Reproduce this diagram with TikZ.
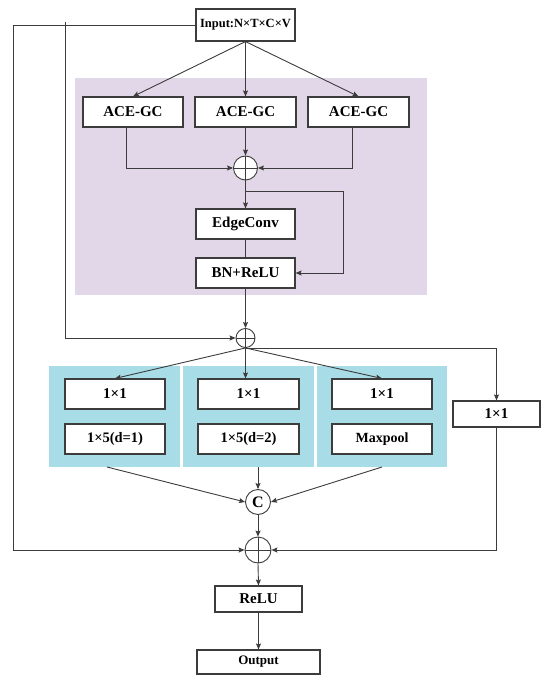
\documentclass[tikz,border=0pt]{standalone}
\usepackage{fontspec}
\setmainfont{Liberation Serif}
\usetikzlibrary{arrows.meta}
\definecolor{lilac}{RGB}{225,215,232}
\definecolor{aqua}{RGB}{168,221,232}
\definecolor{ink}{RGB}{60,60,60}
\begin{document}
\begin{tikzpicture}[x=1pt,y=-1pt,
    box/.style={draw=ink,line width=1.1pt,fill=white,minimum width=100pt,minimum height=30pt,inner sep=1pt,font=\fontsize{15}{17}\selectfont\bfseries},
    sumnode/.style={circle,draw=ink,line width=0.9pt,fill=white,inner sep=0pt,
        path picture={\draw[ink,line width=0.7pt] (path picture bounding box.north) -- (path picture bounding box.south) (path picture bounding box.west) -- (path picture bounding box.east);}},
    arr/.style={-{Stealth[length=6pt,width=5pt,inset=1pt]},line width=0.9pt,ink},
    ln/.style={line width=0.9pt,ink}]
    \useasboundingbox (0,0) rectangle (550,684);
    % backgrounds
    \fill[lilac] (75,78) rectangle (427,295);
    \fill[aqua] (49,366) rectangle (180,467);
    \fill[aqua] (183,366) rectangle (314,467);
    \fill[aqua] (317,366) rectangle (447,467);
    \coordinate (pan1) at (107,467);
    \coordinate (pan2) at (258,467);
    \coordinate (pan3) at (382,467);
    % nodes
    \node[box,minimum width=99pt,minimum height=32pt,font=\fontsize{12.5}{14}\selectfont\bfseries] (in) at (245.5,25) {Input:N×T×C×V};
    \node[box] (ace1) at (133,112) {ACE-GC};
    \node[box,minimum width=101pt] (ace2) at (245.5,112) {ACE-GC};
    \node[box,minimum width=101pt] (ace3) at (358.5,112) {ACE-GC};
    \node[sumnode,minimum size=24pt] (sum) at (245.5,168) {};
    \node[box,minimum width=99pt] (edge) at (245.5,224) {EdgeConv};
    \node[box,minimum width=99pt] (bn) at (245.5,273) {BN+ReLU};
    \node[sumnode,minimum size=19pt] (add1) at (245.5,338) {};
    \node[box] (one1) at (115,394) {1×1};
    \node[box,minimum width=101pt] (one2) at (248.5,394) {1×1};
    \node[box] (one3) at (382,394) {1×1};
    \node[box,font=\fontsize{14.5}{16}\selectfont\bfseries] (five1) at (115,439) {1×5(d=1)};
    \node[box,minimum width=101pt,font=\fontsize{14.5}{16}\selectfont\bfseries] (five2) at (248.5,439) {1×5(d=2)};
    \node[box,font=\fontsize{14}{16}\selectfont\bfseries] (mp) at (382,439) {Maxpool};
    \node[box,minimum width=87pt,minimum height=26pt] (oner) at (496.5,414) {1×1};
    \node[circle,draw=ink,line width=0.9pt,fill=white,minimum size=25pt,inner sep=0pt,font=\fontsize{16}{17}\selectfont\bfseries] (cc) at (258,502) {C};
    \node[sumnode,minimum size=26pt] (add2) at (258,550) {};
    \node[box,minimum width=87pt,minimum height=26pt] (relu) at (258.5,599) {ReLU};
    \node[box,minimum width=123pt,minimum height=24pt,font=\fontsize{13}{14}\selectfont\bfseries] (out) at (258.5,662) {Output};
    % graph convolution part
    \draw[arr] (in.south) -- (ace1.north);
    \draw[arr] (in.south) -- (ace2.north);
    \draw[arr] (in.south) -- (ace3.north);
    \draw[arr] ([xshift=-7pt]ace1.south) |- (sum.west);
    \draw[arr] (ace2.south) -- (sum.north);
    \draw[arr] ([xshift=-6pt]ace3.south) |- (sum.east);
    \draw[arr] (sum.south) -- (edge.north);
    \draw[arr] (sum.south) ++(0,11) -- ++(98,0) |- (bn.east);
    \draw[ln] (edge.south) -- (bn.north);
    \draw[arr] (bn.south) -- (add1.north);
    % residual lines
    \coordinate (j1) at (65,22);
    \draw[arr] (in.west) -- ++(-182,0) |- (add2.west);
    \draw[arr] (j1) |- (add1.west);
    % multi-scale part
    \draw[arr] (add1.south) -- (one1.north);
    \draw[arr] (add1.south) -- (one2.north -| add1);
    \draw[arr] (add1.south) -- (one3.north);
    \draw[arr] (add1.south) -| (oner.north);
    \draw[arr] (pan1) -- (cc.west);
    \draw[arr] (pan2) -- (cc.north);
    \draw[arr] (pan3) -- (cc.east);
    \draw[arr] (oner.south) |- (add2.east);
    \draw[arr] (cc.south) -- (add2.north);
    \draw[arr] (add2.south) -- (relu.north);
    \draw[arr] (relu.south) -- (out.north);
\end{tikzpicture}
\end{document}
